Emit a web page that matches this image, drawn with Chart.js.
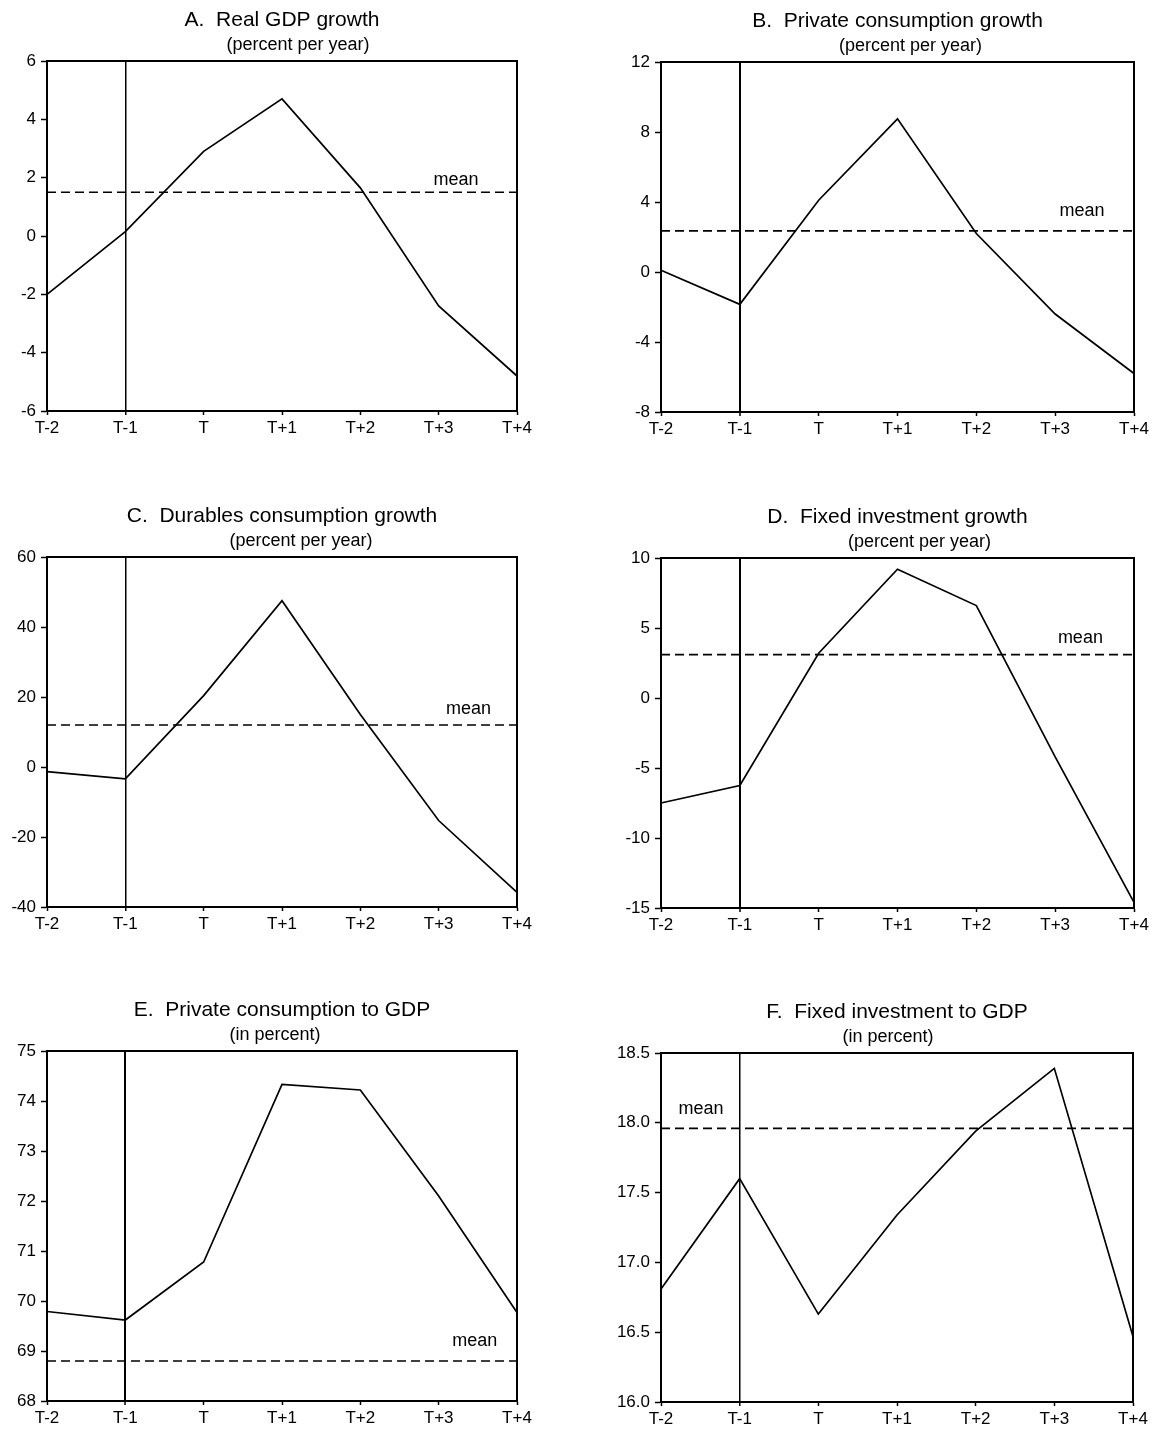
<!DOCTYPE html>
<html>
<head>
<meta charset="utf-8">
<script src="https://cdn.jsdelivr.net/npm/chart.js@4.4.1/dist/chart.umd.min.js"></script>
<style>
  html, body { margin: 0; padding: 0; background: #fff; overflow: hidden; }
  #page { position: relative; width: 1158px; height: 1434px; }
  canvas { position: absolute; }
</style>
</head>
<body>
<div id="page"></div>
<script>
// Event-window periods (x axis)
const periods = ['T-2', 'T-1', 'T', 'T+1', 'T+2', 'T+3', 'T+4'];

// A. Real GDP growth
const gdpGrowth = [-2.0, 0.15, 2.9, 4.7, 1.65, -2.4, -4.8];
const gdpMean = 1.5;
const gdpTicks = [-6, -4, -2, 0, 2, 4, 6];

// B. Private consumption growth
const consGrowth = [0.1, -1.85, 4.1, 8.75, 2.2, -2.4, -5.8];
const consMean = 2.35;
const consTicks = [-8, -4, 0, 4, 8, 12];

// C. Durables consumption growth
const durGrowth = [-1.3, -3.4, 20.4, 47.5, 15.0, -15.3, -35.8];
const durMean = 12.0;
const durTicks = [-40, -20, 0, 20, 40, 60];

// D. Fixed investment growth
const invGrowth = [-7.5, -6.25, 3.2, 9.2, 6.6, -4.2, -14.6];
const invMean = 3.1;
const invTicks = [-15, -10, -5, 0, 5, 10];

// E. Private consumption to GDP
const consShare = [69.79, 69.62, 70.78, 74.33, 74.22, 72.1, 69.77];
const consShareMean = 68.8;
const consShareTicks = [68, 69, 70, 71, 72, 73, 74, 75];

// F. Fixed investment to GDP
const invShare = [16.81, 17.60, 16.63, 17.34, 17.94, 18.39, 16.47];
const invShareMean = 17.96;
const invShareTicks = [16.0, 16.5, 17.0, 17.5, 18.0, 18.5];

const FONT = '"Liberation Sans", Arial, Helvetica, sans-serif';
Chart.defaults.font.family = FONT;
Chart.defaults.color = '#000';

// panel layout: plot box [left, right, top, bottom] in page pixels
const panels = [
    { title: 'A.  Real GDP growth', sub: '(percent per year)', values: gdpGrowth, mean: gdpMean, ticks: gdpTicks, dec: 0,
      col: 0, row: 0, box: [47, 517, 61, 411], subShift: 16, vWidth: 1.5, meanAt: 5.22, meanLift: 7 },
    { title: 'B.  Private consumption growth', sub: '(percent per year)', values: consGrowth, mean: consMean, ticks: consTicks, dec: 0,
      col: 1, row: 0, box: [661, 1134, 62, 412], subShift: 13, vWidth: 2, meanAt: 5.34, meanLift: 15 },
    { title: 'C.  Durables consumption growth', sub: '(percent per year)', values: durGrowth, mean: durMean, ticks: durTicks, dec: 0,
      col: 0, row: 1, box: [47, 517, 557, 907], subShift: 19, vWidth: 1.5, meanAt: 5.38, meanLift: 11 },
    { title: 'D.  Fixed investment growth', sub: '(percent per year)', values: invGrowth, mean: invMean, ticks: invTicks, dec: 0,
      col: 1, row: 1, box: [661, 1134, 558, 908], subShift: 22, vWidth: 2, meanAt: 5.32, meanLift: 12 },
    { title: 'E.  Private consumption to GDP', sub: '(in percent)', values: consShare, mean: consShareMean, ticks: consShareTicks, dec: 0,
      col: 0, row: 2, box: [47, 517, 1051, 1401], subShift: -7, vWidth: 2, meanAt: 5.46, meanLift: 15 },
    { title: 'F.  Fixed investment to GDP', sub: '(in percent)', values: invShare, mean: invShareMean, ticks: invShareTicks, dec: 1,
      col: 1, row: 2, box: [661, 1133, 1053, 1402], subShift: -9, vWidth: 1.5, meanAt: 0.51, meanLift: 14 }
];

const rowTop = [0, 496, 990];
const rowHeight = [496, 494, 444];
const colWidth = 579;
const xAxisHeight = 28;

// frame, titles and the "mean" label
const decor = {
    id: 'decor',
    afterDraw(chart, args, o) {
        const { ctx, chartArea: a } = chart;
        const x = chart.scales.x, y = chart.scales.y;
        ctx.save();
        ctx.strokeStyle = '#000';
        ctx.lineWidth = 2;
        ctx.beginPath();
        ctx.moveTo(a.left, a.top);
        ctx.lineTo(a.right, a.top);
        ctx.lineTo(a.right, a.bottom);
        ctx.stroke();

        const cx = (a.left + a.right) / 2;
        ctx.fillStyle = '#000';
        ctx.textAlign = 'center';
        ctx.textBaseline = 'alphabetic';
        ctx.font = '21px ' + FONT;
        ctx.fillText(o.title, cx, a.top - 35);
        ctx.font = '18px ' + FONT;
        ctx.fillText(o.sub, cx + o.subShift, a.top - 11);
        ctx.font = '18px ' + FONT;
        ctx.fillText('mean', x.getPixelForValue(o.meanAt), y.getPixelForValue(o.mean) - o.meanLift);
        ctx.restore();
    }
};

const page = document.getElementById('page');

panels.forEach(function (p) {
    const left = p.col * colWidth, top = rowTop[p.row], h = rowHeight[p.row];
    const canvas = document.createElement('canvas');
    canvas.width = colWidth;
    canvas.height = h;
    canvas.style.left = left + 'px';
    canvas.style.top = top + 'px';
    page.appendChild(canvas);

    const [bl, br, bt, bb] = p.box;
    const yWidth = bl - left;

    new Chart(canvas.getContext('2d'), {
        type: 'line',
        data: {
            labels: periods,
            datasets: [
                {
                    data: p.values,
                    borderColor: '#000',
                    borderWidth: 1.7,
                    pointRadius: 0,
                    tension: 0,
                    fill: false
                },
                {
                    data: periods.map(() => p.mean),
                    borderColor: '#000',
                    borderWidth: 1.7,
                    borderDash: [9, 5],
                    pointRadius: 0,
                    fill: false
                }
            ]
        },
        options: {
            responsive: false,
            animation: false,
            events: [],
            layout: {
                padding: {
                    left: 0,
                    top: bt - top,
                    right: left + colWidth - br,
                    bottom: top + h - bb - xAxisHeight
                }
            },
            scales: {
                x: {
                    offset: false,
                    afterFit: function (s) { s.height = xAxisHeight; },
                    grid: {
                        drawOnChartArea: true,
                        color: ctx => ctx.index === 1 ? '#000' : 'rgba(0,0,0,0)',
                        lineWidth: ctx => ctx.index === 1 ? p.vWidth : 1,
                        tickColor: '#000',
                        tickWidth: 1.5,
                        tickLength: 4
                    },
                    border: { display: true, color: '#000', width: 2 },
                    ticks: {
                        padding: 3,
                        maxRotation: 0,
                        autoSkip: false,
                        font: { size: 17 },
                        color: '#000'
                    }
                },
                y: {
                    min: p.ticks[0],
                    max: p.ticks[p.ticks.length - 1],
                    afterFit: function (s) { s.width = yWidth; },
                    afterBuildTicks: function (s) { s.ticks = p.ticks.map(v => ({ value: v })); },
                    grid: {
                        drawOnChartArea: false,
                        tickColor: '#000',
                        tickWidth: 1.5,
                        tickLength: 6
                    },
                    border: { display: true, color: '#000', width: 2 },
                    ticks: {
                        padding: 5,
                        font: { size: 17 },
                        color: '#000',
                        callback: v => Number(v).toFixed(p.dec)
                    }
                }
            },
            plugins: {
                legend: { display: false },
                tooltip: { enabled: false },
                decor: {
                    title: p.title,
                    sub: p.sub,
                    subShift: p.subShift,
                    mean: p.mean,
                    meanAt: p.meanAt,
                    meanLift: p.meanLift
                }
            }
        },
        plugins: [decor]
    });
});
</script>
</body>
</html>
